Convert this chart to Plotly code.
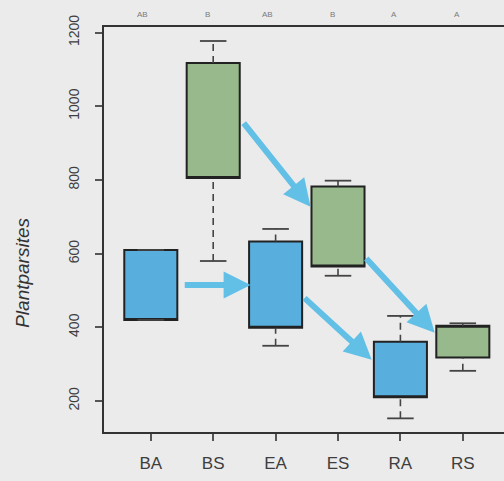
import plotly.graph_objects as go

# Group labels and five-number summaries (Plantparsites)
categories = ["BA", "BS", "EA", "ES", "RA", "RS"]
lower = [420, 580, 350, 540, 153, 282]
q1 = [420, 805, 399, 565, 210, 318]
median = [420, 805, 399, 565, 210, 404]
q3 = [610, 1117, 633, 782, 361, 404]
upper = [610, 1177, 667, 798, 431, 411]
letters = ["AB", "B", "AB", "B", "A", "A"]
box_colors = ["#58afdd", "#97b98b", "#58afdd", "#97b98b", "#58afdd", "#97b98b"]

# Arrows between groups: (from x, from y, to x, to y)
arrow_from_x = [1.52, 2.47, 3.44, 4.43]
arrow_from_y = [515, 958, 483, 591]
arrow_to_x = [2.6, 3.56, 4.54, 5.55]
arrow_to_y = [515, 727, 312, 385]

pos = list(range(1, len(categories) + 1))
box_w = 0.85
cap_w = box_w / 2

fig = go.Figure()

# whiskers (dashed) and staples
for i, p in enumerate(pos):
    for a, b in ((lower[i], q1[i]), (q3[i], upper[i])):
        if b - a > 0:
            fig.add_trace(go.Scatter(x=[p, p], y=[a, b], mode="lines",
                                     line=dict(color="#444444", width=1.6, dash="7px,5px"),
                                     showlegend=False, hoverinfo="skip"))
    for v in (lower[i], upper[i]):
        fig.add_trace(go.Scatter(x=[p - cap_w / 2, p + cap_w / 2], y=[v, v], mode="lines",
                                 line=dict(color="#444444", width=1.8),
                                 showlegend=False, hoverinfo="skip"))

for i, p in enumerate(pos):
    fig.add_trace(go.Box(x=[p], q1=[q1[i]], median=[median[i]], q3=[q3[i]],
                         lowerfence=[q1[i]], upperfence=[q3[i]],
                         width=box_w, fillcolor=box_colors[i],
                         line=dict(color="#222222", width=2),
                         whiskerwidth=0, showlegend=False, hoverinfo="skip"))

for fx, fy, tx, ty in zip(arrow_from_x, arrow_from_y, arrow_to_x, arrow_to_y):
    fig.add_annotation(x=tx, y=ty, ax=fx, ay=fy, xref="x", yref="y",
                       axref="x", ayref="y", showarrow=True, text="",
                       arrowhead=2, arrowsize=0.9, arrowwidth=6,
                       arrowcolor="#5bbde6", opacity=0.95)

for p, t in zip(pos, letters):
    fig.add_annotation(x=p, y=1, xref="x", yref="paper", yanchor="bottom",
                       yshift=6, xshift=-8 if len(t) > 1 else -6,
                       text=t, showarrow=False,
                       font=dict(size=8, color="#7a7a7a", family="Liberation Sans"))

fig.add_annotation(x=-0.2025, y=0.393, xref="paper", yref="paper",
                   xanchor="center", yanchor="middle",
                   text="<i>Plantparsites</i>", textangle=-90, showarrow=False,
                   font=dict(size=19, color="#333333", family="Liberation Sans"))

fig.update_layout(
    width=504, height=481,
    margin=dict(l=104, r=0, t=27, b=49),
    paper_bgcolor="#ebebeb", plot_bgcolor="#ebebeb",
    xaxis=dict(range=[0.25, 6.66], tickmode="array", tickvals=pos, ticktext=categories,
               showgrid=False, zeroline=False, showline=True, linecolor="#333333",
               linewidth=2, mirror=True, ticks="outside", ticklen=7, tickwidth=1.5,
               tickcolor="#555555", ticklabelstandoff=8,
               tickfont=dict(size=17, color="#3e3e3e", family="Liberation Sans")),
    yaxis=dict(range=[116, 1215], tickvals=[200, 400, 600, 800, 1000, 1200],
               showgrid=False, zeroline=False, showline=True, linecolor="#333333",
               linewidth=2, ticks="outside", ticklen=7, tickwidth=1.5,
               tickcolor="#555555", tickangle=-90, ticklabelstandoff=10,
               tickfont=dict(size=14, color="#3e3e3e", family="Liberation Sans")),
)

fig.write_html("out.html")
